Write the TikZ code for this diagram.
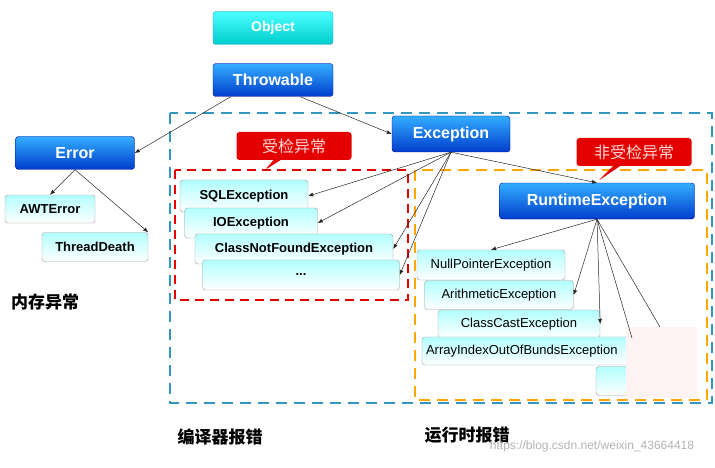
\documentclass[tikz,border=0pt]{standalone}
\usepackage{fontspec}
\setmainfont{Liberation Sans}
\newfontfamily\cjk{Noto Sans CJK SC}
\usetikzlibrary{shadings,arrows.meta,shapes.callouts}
\begin{document}
\begin{tikzpicture}[x=1pt,y=-1pt,
 blue/.style={rounded corners=3pt,top color=cyan!60!blue!80,bottom color=blue!70!cyan!80!black,draw=blue!60!black,text=white,font=\bfseries\fontsize{16}{18}\selectfont,inner sep=0pt},
 teal/.style={blue,top color=cyan!70!white,bottom color=cyan!60!teal,draw=cyan!60!teal,font=\bfseries\fontsize{14}{16}\selectfont},
 lite/.style={rounded corners=3pt,top color=cyan!30,bottom color=white,draw=gray!80,font=\bfseries\fontsize{13}{15}\selectfont,inner sep=0pt},
 liten/.style={lite,font=\fontsize{13}{15}\selectfont},
 arr/.style={-{Latex[length=5pt,width=4pt]},gray!30!black,line width=0.5pt},
 call/.style={rectangle callout,fill=red!90!black,rounded corners=3pt,text=white!85!red,font=\cjk\fontsize{16}{18}\selectfont,minimum width=115pt,minimum height=28pt,inner sep=0pt}]
\useasboundingbox (0,0) rectangle (715,468);
% dashed frames
\draw[cyan!50!teal,line width=2pt,dash pattern=on 11pt off 7pt] (170,113) rectangle (712,403);
\draw[orange!70!yellow,line width=2pt,dash pattern=on 11pt off 7pt] (415,170) rectangle (707,400);
\draw[red!90!black,line width=2.5pt,dash pattern=on 9pt off 6pt] (175,170) rectangle (408,300);
% nodes
\node[teal,minimum width=120pt,minimum height=33pt] (obj) at (273,28) {Object};
\node[blue,minimum width=120pt,minimum height=33pt] (thr) at (273,80) {Throwable};
\node[blue,minimum width=119pt,minimum height=33pt] (err) at (75,153) {Error};
\node[blue,minimum width=118pt,minimum height=36pt] (exc) at (451,134) {Exception};
\node[blue,minimum width=195pt,minimum height=36pt] (rte) at (597,201) {RuntimeException};
\node[lite,minimum width=90pt,minimum height=28pt] (awt) at (50,209) {AWTError};
\node[lite,minimum width=106pt,minimum height=29pt] (td) at (95,247) {ThreadDeath};
\node[lite,minimum width=128pt,minimum height=32pt] (sql) at (244,196) {SQLException};
\node[lite,minimum width=133pt,minimum height=30pt] (io) at (251,223) {IOException};
\node[lite,minimum width=198pt,minimum height=30pt] (cnf) at (294,249) {ClassNotFoundException};
\node[lite,minimum width=197pt,minimum height=30pt] (dots) at (301,275) {...};
\node[liten,minimum width=148pt,minimum height=30pt] (np) at (491,265) {NullPointerException};
\node[liten,minimum width=149pt,minimum height=29pt] (ar) at (499,295) {ArithmeticException};
\node[liten,minimum width=162pt,minimum height=28pt] (cc) at (519,324) {ClassCastException};
\node[liten,minimum width=230pt,minimum height=28pt,text width=222pt,align=left] (ai) at (537,351) {ArrayIndexOutOfBundsException};
\node[lite,minimum width=60pt,minimum height=29pt] (bl) at (626,381) {};
\fill[red!5!white] (626,327) rectangle (697,398);
% callouts
\node[call,callout absolute pointer={(265,170)}] (c1) at (294,146) {受检异常};
\node[call,callout absolute pointer={(598,181)}] (c2) at (634,152) {非受检异常};
% arrows
\draw[arr] (thr.south west)++(18,0) -- (err.east);
\draw[arr] (thr.south east)++(-33,0) -- (exc.west);
\draw[arr] (err.south) -- (awt.north);
\draw[arr] (err.south) -- (td.north east);
\draw[arr] (exc.south) -- (rte.north);
\draw[arr] (exc.south) -- (sql.east);
\draw[arr] (exc.south) -- (io.east);
\draw[arr] (exc.south) -- (cnf.east);
\draw[arr] (exc.south) -- (dots.east);
\draw[arr] (rte.south) -- (np.north);
\draw[arr] (rte.south) -- (ar.east);
\draw[arr] (rte.south) -- (cc.east);
\coordinate (e1) at (632,338);
\coordinate (e2) at (660,327);
\draw[gray!30!black,line width=0.5pt] (rte.south) -- (e1) (rte.south) -- (e2);
% texts
\node[font=\cjk\bfseries\fontsize{17}{19}\selectfont] (t1) at (45,302) {内存异常};
\node[font=\cjk\bfseries\fontsize{17}{19}\selectfont] (t2) at (220,437) {编译器报错};
\node[font=\cjk\bfseries\fontsize{17}{19}\selectfont] (t3) at (467,435) {运行时报错};
\node[font=\fontsize{12}{14}\selectfont,text=gray!60] (wm) at (592,446) {https://blog.csdn.net/weixin\_43664418};
\end{tikzpicture}
\end{document}
